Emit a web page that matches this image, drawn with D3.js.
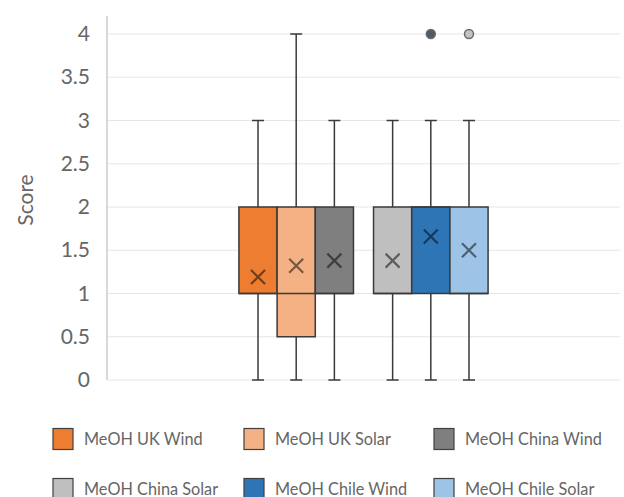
<!DOCTYPE html>
<html>
<head>
<meta charset="utf-8">
<script src="https://cdn.jsdelivr.net/npm/d3@7"></script>
<style>
  body { margin: 0; background: #fff; }
  text { font-family: Lato, "Open Sans", sans-serif; }
</style>
</head>
<body>
<div id="chart"></div>
<script>
// Chart data
const seriesNames = ["MeOH UK Wind", "MeOH UK Solar", "MeOH China Wind",
                     "MeOH China Solar", "MeOH Chile Wind", "MeOH Chile Solar"];
const groupNames = ["A", "B"];
const seriesGroup = [0, 0, 0, 1, 1, 1];
const mins = [0, 0, 0, 0, 0, 0];
const q1s = [1, 0.5, 1, 1, 1, 1];
const medians = [1, 1, 1, 1, 2, 1];
const q3s = [2, 2, 2, 2, 2, 2];
const maxs = [3, 4, 3, 3, 3, 3];
const means = [1.19, 1.32, 1.38, 1.38, 1.66, 1.5];
const outliers = [[], [], [], [], [4], [4]];
const yTicks = [0, 0.5, 1, 1.5, 2, 2.5, 3, 3.5, 4];

const colors = ["#ED7D31", "#F4B183", "#7F7F7F", "#BFBFBF", "#2E75B6", "#9DC3E6"];
const outlierFill = ["#505a64", "#c4c4c4"];

const width = 624;
const height = 497;
const margin = {top: 34, right: 4, bottom: 117, left: 107};

const svg = d3.select("#chart")
    .append("svg")
    .attr("width", width)
    .attr("height", height);

// Scales
const yScale = d3.scaleLinear()
    .domain([0, 4])
    .range([height - margin.bottom, margin.top]);

const groupScale = d3.scaleBand()
    .domain(groupNames)
    .range([margin.left, width - margin.right])
    .paddingInner(0.149)
    .paddingOuter(0.98);

const innerScale = d3.scaleBand()
    .domain([0, 1, 2])
    .range([0, groupScale.bandwidth()]);

const xOf = i => groupScale(groupNames[seriesGroup[i]]) + innerScale(i % 3);
const bw = innerScale.bandwidth();

// Gridlines
svg.append("g")
    .selectAll("line")
    .data(yTicks)
    .enter().append("line")
    .attr("x1", margin.left)
    .attr("x2", width - margin.right)
    .attr("y1", d => yScale(d))
    .attr("y2", d => yScale(d))
    .attr("stroke", "#e6e6e6")
    .attr("stroke-width", 1);

// Y axis
const yAxis = svg.append("g")
    .attr("transform", "translate(" + margin.left + ",0)")
    .call(d3.axisLeft(yScale).tickValues(yTicks).tickSize(0).tickPadding(17).tickFormat(d3.format("")));
yAxis.select(".domain").remove();
yAxis.selectAll("text")
    .attr("fill", "#666")
    .style("font-size", "21px");

svg.append("line")
    .attr("x1", margin.left)
    .attr("x2", margin.left)
    .attr("y1", yScale(4) - 18)
    .attr("y2", yScale(0))
    .attr("stroke", "#bfbfbf")
    .attr("stroke-width", 1.2);

svg.append("text")
    .attr("transform", "translate(33," + 200 + ") rotate(-90)")
    .attr("text-anchor", "middle")
    .attr("fill", "#666")
    .style("font-size", "21px")
    .text("Score");

// Boxes
const stroke = "#3a3a3a";
const boxes = svg.selectAll(".box")
    .data(seriesNames)
    .enter().append("g")
    .attr("class", "box");

// whiskers
boxes.append("line")
    .attr("x1", (d, i) => xOf(i) + bw / 2)
    .attr("x2", (d, i) => xOf(i) + bw / 2)
    .attr("y1", (d, i) => yScale(maxs[i]))
    .attr("y2", (d, i) => yScale(q3s[i]))
    .attr("stroke", stroke).attr("stroke-width", 1.5);
boxes.append("line")
    .attr("x1", (d, i) => xOf(i) + bw / 2)
    .attr("x2", (d, i) => xOf(i) + bw / 2)
    .attr("y1", (d, i) => yScale(q1s[i]))
    .attr("y2", (d, i) => yScale(mins[i]))
    .attr("stroke", stroke).attr("stroke-width", 1.5);
// caps
[maxs, mins].forEach(arr => {
    boxes.append("line")
        .attr("x1", (d, i) => xOf(i) + bw / 2 - 6)
        .attr("x2", (d, i) => xOf(i) + bw / 2 + 6)
        .attr("y1", (d, i) => yScale(arr[i]))
        .attr("y2", (d, i) => yScale(arr[i]))
        .attr("stroke", stroke).attr("stroke-width", 1.5);
});

boxes.append("rect")
    .attr("x", (d, i) => xOf(i))
    .attr("width", bw)
    .attr("y", (d, i) => yScale(q3s[i]))
    .attr("height", (d, i) => yScale(q1s[i]) - yScale(q3s[i]))
    .attr("fill", (d, i) => colors[i])
    .attr("stroke", stroke)
    .attr("stroke-width", 1.5);

// median line
boxes.append("line")
    .attr("x1", (d, i) => xOf(i))
    .attr("x2", (d, i) => xOf(i) + bw)
    .attr("y1", (d, i) => yScale(medians[i]))
    .attr("y2", (d, i) => yScale(medians[i]))
    .attr("stroke", stroke).attr("stroke-width", 1.5);

// mean markers (x)
const m = 7;
boxes.append("path")
    .attr("d", (d, i) => {
        const cx = xOf(i) + bw / 2, cy = yScale(means[i]);
        return "M" + (cx - m) + "," + (cy - m) + "L" + (cx + m) + "," + (cy + m) +
               "M" + (cx - m) + "," + (cy + m) + "L" + (cx + m) + "," + (cy - m);
    })
    .attr("stroke", (d, i) => d3.color(colors[i]).darker(2))
    .attr("stroke-width", 2.2)
    .attr("fill", "none");

// outliers
let oi = 0;
seriesNames.forEach((name, i) => {
    outliers[i].forEach(v => {
        svg.append("circle")
            .attr("cx", xOf(i) + bw / 2)
            .attr("cy", yScale(v))
            .attr("r", 4.5)
            .attr("fill", outlierFill[oi % outlierFill.length])
            .attr("stroke", "#6a6a6a")
            .attr("stroke-width", 1.5);
        oi++;
    });
});

// Legend
const legendX = [53, 244, 434];
const legendY = [439, 489];
const legend = svg.selectAll(".legend")
    .data(seriesNames)
    .enter().append("g")
    .attr("class", "legend")
    .attr("transform", (d, i) => "translate(" + legendX[i % 3] + "," + legendY[Math.floor(i / 3)] + ")");

legend.append("rect")
    .attr("x", 0)
    .attr("y", -10.5)
    .attr("width", 20)
    .attr("height", 21)
    .attr("fill", (d, i) => colors[i])
    .attr("stroke", "#404040")
    .attr("stroke-width", 1.2);

legend.append("text")
    .attr("x", 31)
    .attr("y", 0)
    .attr("dy", "0.35em")
    .attr("fill", "#666")
    .style("font-size", "16.3px")
    .text(d => d);
</script>
</body>
</html>
